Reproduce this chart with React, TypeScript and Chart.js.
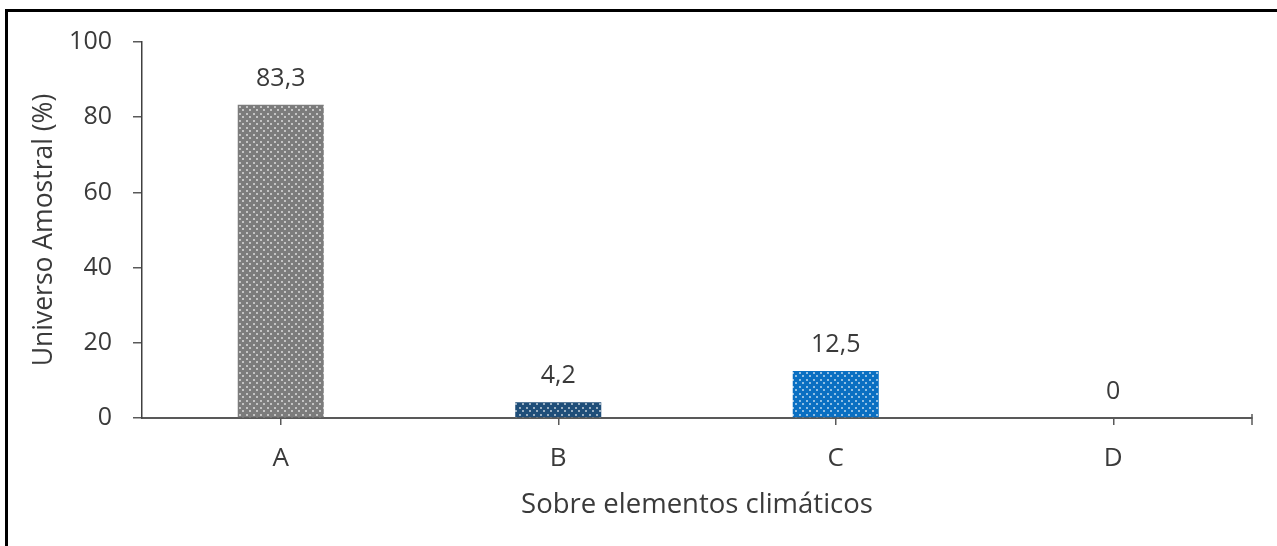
import React, { useEffect, useRef } from "react";
import { Chart, registerables } from "chart.js";

Chart.register(...registerables);

const categories = ["A", "B", "C", "D"];
const values = [83.3, 4.2, 12.5, 0];
const valueLabels = ["83,3", "4,2", "12,5", "0"];
const barColors = ["#7c7c7c", "#1f4e79", "#0a6fc2", "#7c7c7c"];
const yTickValues = [0, 20, 40, 60, 80, 100];
const xTitle = "Sobre elementos climáticos";
const yTitle = "Universo Amostral (%)";

const FONT = "'Open Sans', 'DejaVu Sans', sans-serif";
const TEXT = "#3a3a3a";
const AXIS = "#595959";

function makePattern(color: string): CanvasPattern | string {
  const c = document.createElement("canvas");
  c.width = 7;
  c.height = 7;
  const ctx = c.getContext("2d");
  if (!ctx) return color;
  ctx.fillStyle = color;
  ctx.fillRect(0, 0, 7, 7);
  ctx.fillStyle = "rgba(255,255,255,0.55)";
  ctx.fillRect(1, 1, 2, 2);
  ctx.fillRect(4, 4, 2, 2);
  const p = ctx.createPattern(c, "repeat");
  return p || color;
}

const labelPlugin = {
  id: "valueLabels",
  afterDatasetsDraw(chart: any) {
    const ctx = chart.ctx;
    const meta = chart.getDatasetMeta(0);
    ctx.save();
    ctx.font = `25px ${FONT}`;
    ctx.fillStyle = TEXT;
    ctx.textAlign = "center";
    ctx.textBaseline = "alphabetic";
    meta.data.forEach((bar: any, i: number) => {
      ctx.fillText(valueLabels[i], bar.x, bar.y - 19);
    });
    // small closing tick at right end of x axis
    const { right, bottom } = chart.chartArea;
    ctx.strokeStyle = AXIS;
    ctx.lineWidth = 1.5;
    ctx.beginPath();
    ctx.moveTo(right, bottom - 4);
    ctx.lineTo(right, bottom + 7);
    ctx.stroke();
    ctx.restore();
  },
};

export default function App() {
  const ref = useRef<HTMLCanvasElement | null>(null);

  useEffect(() => {
    if (!ref.current) return;
    const chart = new Chart(ref.current, {
      type: "bar",
      data: {
        labels: categories,
        datasets: [
          {
            data: values,
            backgroundColor: barColors.map((c) => makePattern(c)),
            borderWidth: 0,
            categoryPercentage: 1,
            barPercentage: 0.31,
          },
        ],
      },
      options: {
        responsive: false,
        animation: false,
        devicePixelRatio: 1,
        layout: { padding: { left: 0, top: 42, right: 25, bottom: 0 } },
        plugins: {
          legend: { display: false },
          tooltip: { enabled: false },
        },
        scales: {
          x: {
            offset: true,
            grid: {
              offset: false,
              drawOnChartArea: false,
              drawTicks: true,
              tickLength: 7,
              color: AXIS,
              lineWidth: 1.5,
            },
            border: { display: true, color: AXIS, width: 2 },
            ticks: {
              color: TEXT,
              font: { family: FONT, size: 26 },
              padding: 18,
            },
            title: {
              display: true,
              text: xTitle,
              color: TEXT,
              font: { family: FONT, size: 27.5 },
              padding: { top: 0, bottom: 24 },
            },
            afterFit: (scale: any) => {
              scale.height = 128;
            },
          },
          y: {
            min: 0,
            max: 100,
            afterBuildTicks: (scale: any) => {
              scale.ticks = yTickValues.map((v) => ({ value: v }));
            },
            grid: {
              drawOnChartArea: false,
              drawTicks: true,
              tickLength: 9,
              color: AXIS,
              lineWidth: 1.5,
            },
            border: { display: true, color: "#404040", width: 1.5 },
            ticks: {
              color: TEXT,
              font: { family: FONT, size: 25 },
              padding: 21,
            },
            title: {
              display: true,
              text: yTitle,
              color: TEXT,
              font: { family: FONT, size: 26.5 },
              padding: { top: 29, bottom: 0 },
            },
            afterFit: (scale: any) => {
              scale.width = 142;
            },
          },
        },
      },
      plugins: [labelPlugin],
    });
    return () => chart.destroy();
  }, []);

  return (
    <div>
      <canvas
        ref={ref}
        width={1277}
        height={546}
        style={{ position: "fixed", left: 0, top: 0, width: 1277, height: 546 }}
      />
      <div
        style={{
          position: "fixed",
          left: 5,
          top: 9,
          width: 1320,
          height: 620,
          border: "3px solid #000",
          boxSizing: "border-box",
          pointerEvents: "none",
        }}
      />
    </div>
  );
}
